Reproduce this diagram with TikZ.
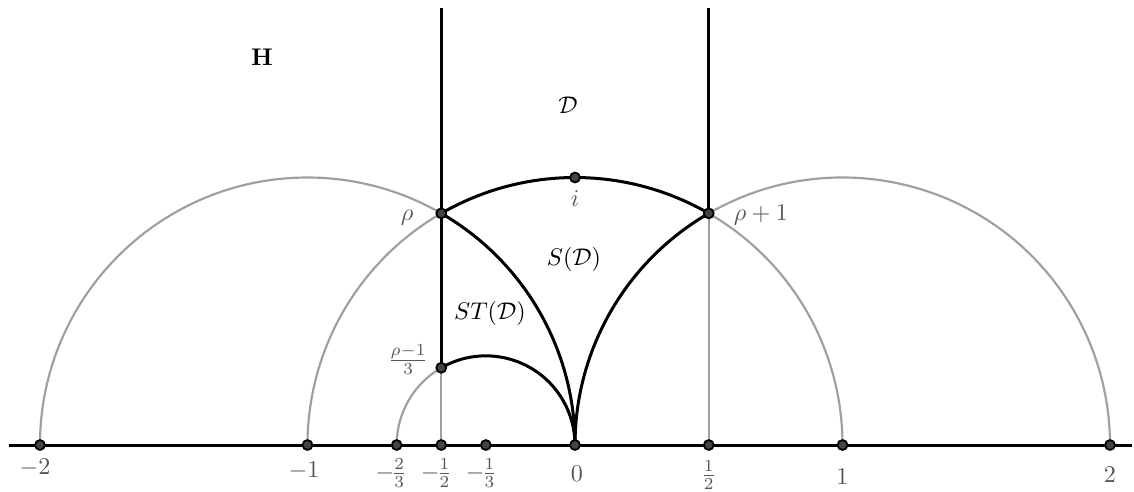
\documentclass[tikz,border=0pt]{standalone}
\usetikzlibrary{positioning}
\definecolor{arcgray}{RGB}{160,160,160}
\definecolor{ptfill}{RGB}{68,68,68}
\definecolor{lblgray}{RGB}{85,85,85}
\tikzset{
  bound/.style={line width=1.25pt, black},
  aux/.style={line width=0.9pt, arcgray},
  pt/.style={circle, draw=black, fill=ptfill, line width=0.75pt, inner sep=0pt, minimum size=4.1pt},
  lbl/.style={text=lblgray, inner sep=0pt, execute at begin node={\nulldelimiterspace=0pt}},
}
\begin{document}
\begin{tikzpicture}[x=3.9cm, y=3.9cm]
\useasboundingbox (-2.1495,-0.172) rectangle (2.0897,1.6636);
% points on the real axis
\coordinate (axl) at (-2.116,0);
\coordinate (axr) at (2.082,0);
\coordinate (m2) at (-2,0);
\coordinate (m1) at (-1,0);
\coordinate (m23) at (-2/3,0);
\coordinate (mh) at (-1/2,0);
\coordinate (m13) at (-1/3,0);
\coordinate (o) at (0,0);
\coordinate (h) at (1/2,0);
\coordinate (p1) at (1,0);
\coordinate (p2) at (2,0);
% points in the upper half plane
\coordinate (ii) at (0,1);
\coordinate (rho) at (-1/2,0.8660);
\coordinate (rhoa) at (1/2,0.8660);
\coordinate (rhob) at (-1/2,0.2887);
\coordinate (tl) at (-1/2,1.6336);
\coordinate (tr) at (1/2,1.6336);

\draw[aux] (m2) arc[start angle=180, end angle=60, radius=1];
\draw[aux] (m1) arc[start angle=180, end angle=120, radius=1];
\draw[aux] (rhoa) arc[start angle=60, end angle=0, radius=1];
\draw[aux] (rhoa) arc[start angle=120, end angle=0, radius=1];
\draw[aux] (m23) arc[start angle=180, end angle=120, radius=1/3];
\draw[aux] (mh) -- (rhob);
\draw[aux] (h) -- (rhoa);

\draw[bound] (axl) -- (axr);
\draw[bound] (tl) -- (rhob);
\draw[bound] (tr) -- (rhoa);
\draw[bound] (rho) arc[start angle=120, end angle=60, radius=1];
\draw[bound] (rho) arc[start angle=60, end angle=0, radius=1];
\draw[bound] (rhoa) arc[start angle=120, end angle=180, radius=1];
\draw[bound] (rhob) arc[start angle=120, end angle=0, radius=1/3];

\foreach \p in {m2,m1,m23,mh,m13,o,h,p1,p2,ii,rho,rhoa,rhob}
  \node[pt] at (\p) {};

\node at (-1.170,1.450) {$\mathbf{H}$};
\node at (-0.026,1.271) {$\mathcal{D}$};
\node at (-0.004,0.692) {$S(\mathcal{D})$};
\node at (-0.318,0.492) {$ST(\mathcal{D})$};
\node[lbl] at (0,0.920) {$i$};
\node[lbl] at (-0.628,0.849) {$\rho$};
\node[lbl] at (0.695,0.859) {$\rho+1$};
\node[lbl] at (-0.624,0.318) {$\frac{\rho-1}{3}$};
\node[lbl] at (-2.019,-0.086) {$-2$};
\node[lbl] at (-1.013,-0.097) {$-1$};
\node[lbl] at (-0.692,-0.105) {$-\frac{2}{3}$};
\node[lbl] at (-0.523,-0.105) {$-\frac{1}{2}$};
\node[lbl] at (-0.355,-0.105) {$-\frac{1}{3}$};
\node[lbl] at (0.007,-0.107) {$0$};
\node[lbl] at (0.5,-0.112) {$\frac{1}{2}$};
\node[lbl] at (1.0,-0.12) {$1$};
\node[lbl] at (2.0,-0.112) {$2$};
\end{tikzpicture}
\end{document}
